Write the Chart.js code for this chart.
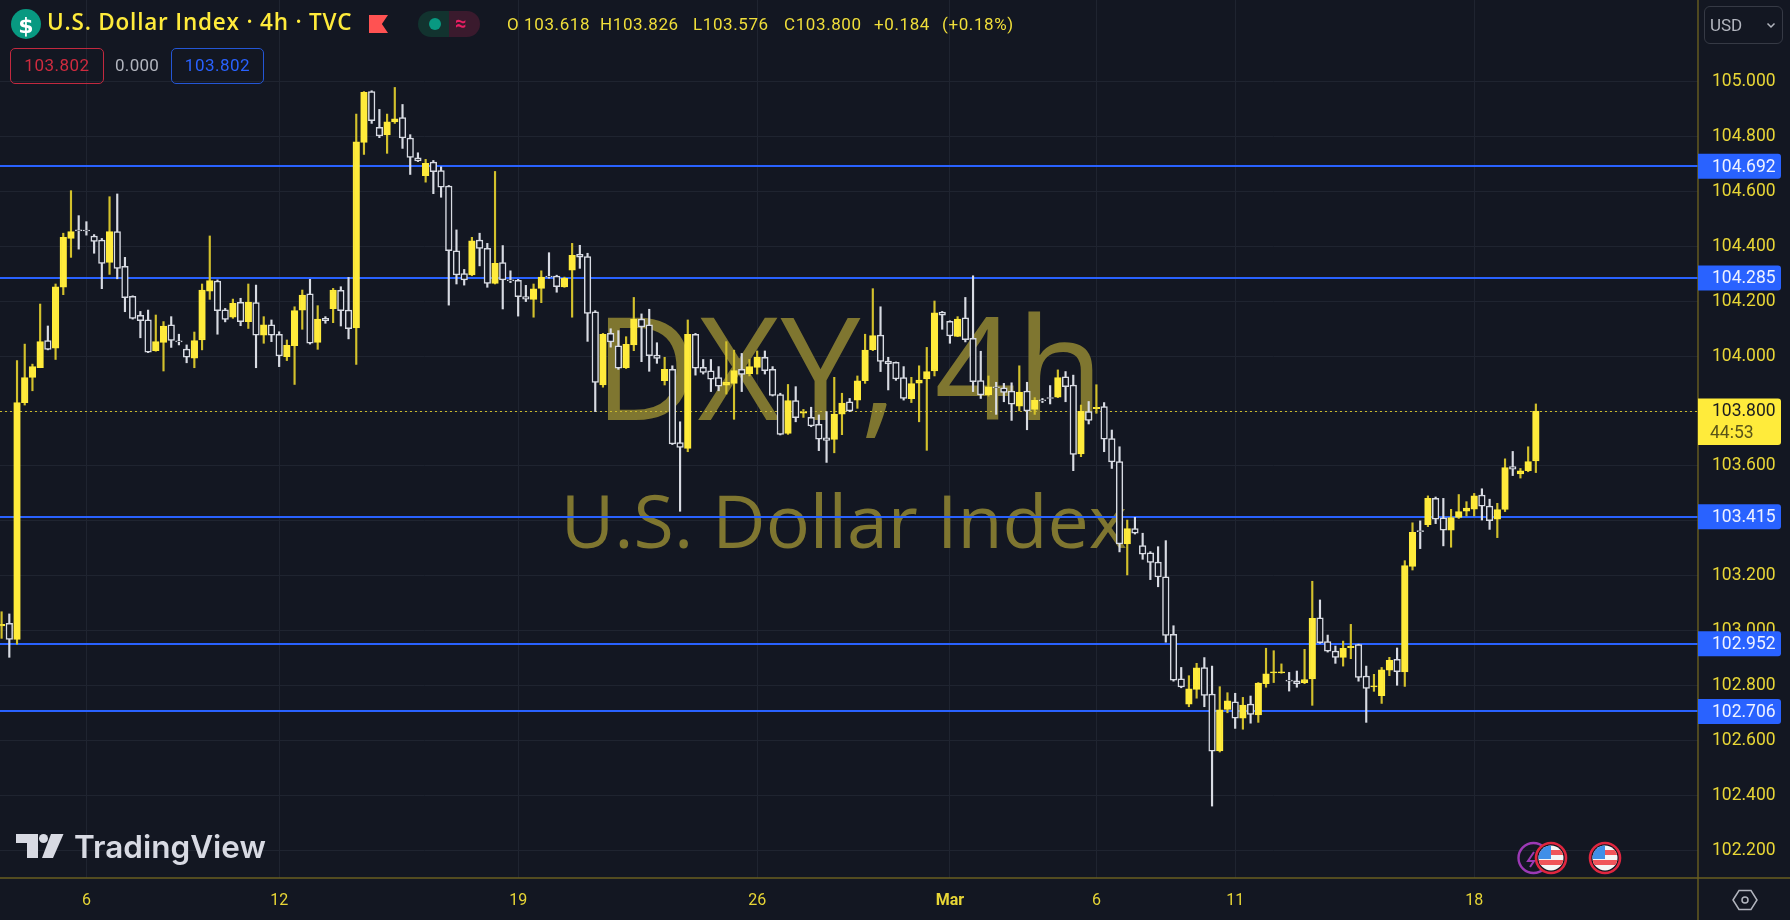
<!DOCTYPE html>
<html>
<head>
<meta charset="utf-8">
<title>DXY 4h</title>
<script src="https://cdn.jsdelivr.net/npm/chart.js@4"></script>
<style>
html, body { margin: 0; padding: 0; background: #131722; width: 1790px; height: 920px; overflow: hidden; }
#chart { position: absolute; left: 0; top: 0; }
.tx { position: absolute; white-space: nowrap; font-family: Roboto, sans-serif; line-height: 1; }
.ohlc { color: #f0de3a; font-size: 17px; top: 16px; letter-spacing: 0.6px; }
.box { position: absolute; box-sizing: border-box; border-radius: 5px; border: 1.5px solid; }
svg { position: absolute; overflow: visible; }
</style>
</head>
<body>
<canvas id="chart" width="1790" height="920"></canvas>

<!-- ENCABEZADO -->
<svg style="left:0;top:0" width="60" height="50"><circle cx="26" cy="24" r="15" fill="#089981"/></svg>
<div class="tx" style="left:17px;top:13px;width:18px;text-align:center;color:#fff;font:bold 22px 'DejaVu Sans'">$</div>
<div class="tx" style="left:47px;top:11px;color:#ffeb3b;font-family:'Open Sans';font-weight:600;font-size:22.5px;letter-spacing:0.8px">U.S. Dollar Index · 4h · TVC</div>
<div style="position:absolute;left:369px;top:15px;width:19px;height:18px;background:#ff5252;clip-path:polygon(0 0,100% 0,68% 50%,100% 100%,0 100%)"></div>
<div style="position:absolute;left:418px;top:11px;width:31px;height:26px;background:#12332f;border-radius:13px 0 0 13px"></div>
<div style="position:absolute;left:449px;top:11px;width:31px;height:26px;background:#3a1a2d;border-radius:0 13px 13px 0"></div>
<svg style="left:0;top:0" width="500" height="50"><circle cx="435" cy="24" r="6" fill="#089981"/></svg>
<div class="tx" style="left:455px;top:13px;color:#e91e63;font-size:20px;font-weight:bold;">≈</div>

<div class="tx ohlc" style="left:507px">O 103.618</div>
<div class="tx ohlc" style="left:600px">H103.826</div>
<div class="tx ohlc" style="left:693px">L103.576</div>
<div class="tx ohlc" style="left:784px">C103.800</div>
<div class="tx ohlc" style="left:874px">+0.184</div>
<div class="tx ohlc" style="left:942px">(+0.18%)</div>

<div class="box" style="left:10px;top:48px;width:94px;height:36px;border-color:#c2293f"></div>
<div class="tx" style="left:10px;top:57px;width:94px;text-align:center;color:#cf2b3f;font-size:17px;letter-spacing:0.5px">103.802</div>
<div class="tx" style="left:115px;top:57px;color:#b2b5be;font-size:17px;letter-spacing:0.3px">0.000</div>
<div class="box" style="left:171px;top:48px;width:93px;height:36px;border-color:#2456d6"></div>
<div class="tx" style="left:171px;top:57px;width:93px;text-align:center;color:#2962ff;font-size:17px;letter-spacing:0.5px">103.802</div>

<!-- SELECTOR DE MONEDA -->
<div class="box" style="left:1704px;top:6px;width:79px;height:38px;border-color:#363a45;border-radius:6px;border-width:1px"></div>
<div class="tx" style="left:1710px;top:17px;color:#b2b5be;font-size:17px">USD</div>
<svg style="left:1766px;top:22px" width="12" height="8"><path d="M1.5 1.5 L5 5 L8.5 1.5" fill="none" stroke="#b2b5be" stroke-width="1.5"/></svg>

<!-- LOGO -->
<svg style="left:0;top:0" width="80" height="880">
  <path d="M16 834 H38 V858 H27 V843 H16 Z" fill="#d8dae3"/>
  <circle cx="43.5" cy="838.5" r="4.5" fill="#d8dae3"/>
  <path d="M51 834 H63.5 L53 858 H42 Z" fill="#d8dae3"/>
</svg>
<div class="tx" style="left:74px;top:831px;color:#d8dae3;font-family:Inter;font-weight:600;font-size:31.5px;">TradingView</div>

<!-- EVENTOS -->
<svg style="left:1500px;top:830px" width="130" height="60">
  <defs>
    <clipPath id="flag"><circle cx="0" cy="0" r="12.5"/></clipPath>
    <g id="usa">
      <circle r="15" fill="#131722" stroke="#e0263f" stroke-width="2.6"/>
      <g clip-path="url(#flag)">
        <rect x="-13" y="-13" width="26" height="26" fill="#f5f5f5"/>
        <rect x="-13" y="-8" width="26" height="5" fill="#f0555a"/>
        <rect x="-13" y="2" width="26" height="5" fill="#f0555a"/>
        <rect x="-13" y="-13" width="13" height="14" fill="#3f8fe8"/>
      </g>
    </g>
  </defs>
  <circle cx="33.5" cy="28" r="15" fill="none" stroke="#9c39b5" stroke-width="2.4"/>
  <path d="M34 22 L28 31 H34 L30 37" fill="none" stroke="#9c39b5" stroke-width="2"/>
  <use href="#usa" x="51" y="28"/>
  <use href="#usa" x="105" y="28"/>
</svg>

<!-- CONFIGURACION -->
<svg style="left:1745px;top:900px" width="1" height="1">
  <path d="M-12 0 L-6 -9.5 H6 L12 0 L6 9.5 H-6 Z" fill="none" stroke="#b2b5be" stroke-width="1.5"/>
  <circle r="3" fill="none" stroke="#b2b5be" stroke-width="1.5"/>
</svg>

<script>
//PRECIOS DE APERTURA
var opens = [103.017,103.027,102.968,103.831,103.923,103.958,104.057,104.029,104.251,104.429,
104.460,104.458,104.438,104.423,104.342,104.454,104.327,104.218,104.149,104.132,
104.020,104.050,104.114,104.054,104.026,103.993,104.059,104.237,104.274,104.169,
104.142,104.196,104.126,104.195,104.077,104.114,104.080,103.998,104.038,104.168,
104.227,104.050,104.138,104.173,104.240,104.168,104.103,104.779,104.964,104.834,
104.806,104.853,104.869,104.795,104.723,104.658,104.707,104.676,104.620,104.384,
104.301,104.296,104.423,104.393,104.265,104.341,104.278,104.276,104.217,104.207,
104.247,104.292,104.292,104.252,104.313,104.371,104.363,104.162,103.895,104.083,
104.038,103.958,104.041,104.135,104.114,104.004,103.911,103.952,103.685,103.664,
104.080,103.959,103.947,103.922,103.894,103.901,103.952,103.936,103.959,103.996,
103.952,103.860,103.719,103.838,103.792,103.777,103.752,103.703,103.697,103.789,
103.834,103.840,103.911,104.024,104.077,103.982,103.978,103.922,103.845,103.902,
103.917,103.946,104.161,104.127,104.072,104.140,104.065,103.911,103.859,103.888,
103.885,103.873,103.818,103.873,103.806,103.839,103.849,103.851,103.925,103.895,
103.644,103.798,103.809,103.816,103.700,103.616,103.316,103.372,103.310,103.284,
103.250,103.196,102.987,102.825,102.732,102.786,102.866,102.769,102.562,102.713,
102.741,102.681,102.733,102.693,102.807,102.846,102.846,102.819,102.817,102.811,
102.824,103.047,102.960,102.926,102.903,102.938,102.949,102.835,102.795,102.763,
102.856,102.896,102.850,103.234,103.364,103.386,103.482,103.411,103.366,103.413,
103.435,103.443,103.494,103.454,103.406,103.442,103.598,103.571,103.583,103.618];

//PRECIOS MAXIMOS
var highs = [103.069,103.061,103.984,104.044,103.971,104.190,104.110,104.263,104.448,104.603,
104.512,104.490,104.443,104.429,104.581,104.591,104.360,104.220,104.163,104.168,
104.150,104.126,104.144,104.080,104.041,104.088,104.263,104.438,104.278,104.174,
104.208,104.211,104.263,104.259,104.144,104.132,104.089,104.059,104.180,104.241,
104.280,104.184,104.144,104.247,104.253,104.287,104.882,104.964,104.967,104.899,
104.882,104.979,104.917,104.807,104.741,104.717,104.713,104.690,104.622,104.460,
104.316,104.433,104.448,104.411,104.673,104.403,104.311,104.280,104.258,104.263,
104.311,104.377,104.295,104.288,104.411,104.404,104.375,104.166,104.083,104.100,
104.093,104.071,104.214,104.154,104.171,104.049,103.996,103.965,103.761,104.132,
104.083,103.988,103.988,103.962,104.053,104.022,104.010,103.988,104.019,104.019,
103.962,103.865,103.897,103.889,103.806,103.814,103.786,103.798,103.923,103.865,
103.846,103.928,104.080,104.246,104.180,103.996,103.979,103.962,103.923,103.965,
104.032,104.201,104.163,104.129,104.144,104.214,104.293,104.018,103.928,103.905,
103.901,103.903,103.965,103.905,103.849,103.846,103.893,103.950,103.944,103.931,
103.822,103.835,103.896,103.831,103.731,103.670,103.403,103.413,103.355,103.288,
103.306,103.328,103.018,102.866,102.836,102.881,102.902,102.871,102.796,102.774,
102.772,102.757,102.762,102.811,102.936,102.927,102.879,102.848,102.853,102.932,
103.180,103.112,102.984,102.944,102.962,103.023,102.951,102.871,102.841,102.866,
102.903,102.937,103.255,103.393,103.400,103.491,103.487,103.482,103.442,103.496,
103.470,103.500,103.517,103.479,103.464,103.626,103.653,103.591,103.670,103.826];

//PRECIOS MINIMOS
var lows = [102.972,102.903,102.951,103.822,103.874,103.958,104.023,103.988,104.224,104.360,
104.390,104.441,104.375,104.246,104.298,104.282,104.162,104.135,104.067,104.013,
104.018,103.946,104.032,104.041,103.976,103.958,104.023,104.207,104.080,104.125,
104.138,104.111,104.101,103.958,104.047,104.053,103.962,103.984,103.897,104.098,
104.044,104.025,104.120,104.122,104.110,104.063,103.970,104.735,104.848,104.796,
104.739,104.848,104.757,104.662,104.709,104.634,104.592,104.579,104.186,104.263,
104.259,104.293,104.329,104.251,104.263,104.172,104.268,104.146,104.199,104.142,
104.195,104.284,104.233,104.251,104.142,104.320,104.054,103.798,103.887,104.033,
103.952,103.955,104.020,103.980,103.945,103.974,103.895,103.678,103.435,103.652,
103.931,103.935,103.871,103.874,103.862,103.770,103.871,103.928,103.935,103.935,
103.855,103.713,103.715,103.761,103.777,103.743,103.656,103.613,103.648,103.714,
103.798,103.810,103.901,104.020,103.944,103.877,103.912,103.840,103.831,103.761,
103.657,103.928,104.098,104.047,104.071,104.052,103.871,103.846,103.855,103.788,
103.834,103.766,103.801,103.732,103.788,103.831,103.826,103.849,103.834,103.583,
103.634,103.753,103.792,103.652,103.591,103.287,103.203,103.352,103.260,103.186,
103.160,102.958,102.816,102.792,102.723,102.754,102.723,102.361,102.558,102.701,
102.644,102.641,102.663,102.666,102.794,102.811,102.845,102.780,102.794,102.807,
102.728,102.954,102.922,102.881,102.871,102.898,102.816,102.666,102.779,102.735,
102.836,102.801,102.797,103.221,103.299,103.379,103.390,103.309,103.304,103.409,
103.418,103.418,103.403,103.369,103.339,103.434,103.565,103.556,103.579,103.576];

//PRECIOS DE CIERRE
var closes = [103.023,102.968,103.831,103.922,103.962,104.053,104.025,104.253,104.433,104.454,
104.456,104.456,104.418,104.338,104.454,104.320,104.213,104.138,104.129,104.015,
104.053,104.110,104.057,104.052,103.996,104.057,104.241,104.275,104.166,104.134,
104.193,104.126,104.197,104.077,104.114,104.077,104.001,104.040,104.166,104.223,
104.047,104.135,104.129,104.241,104.166,104.100,104.781,104.961,104.858,104.802,
104.854,104.865,104.795,104.724,104.711,104.703,104.672,104.616,104.384,104.296,
104.278,104.420,104.393,104.265,104.338,104.278,104.274,104.217,104.208,104.245,
104.288,104.288,104.253,104.284,104.367,104.361,104.156,103.904,104.080,104.052,
103.956,104.043,104.135,104.107,104.002,103.992,103.952,103.680,103.668,104.080,
103.956,103.941,103.916,103.891,103.905,103.948,103.934,103.962,103.997,103.947,
103.857,103.715,103.838,103.776,103.794,103.746,103.698,103.693,103.789,103.829,
103.801,103.910,104.022,104.075,103.981,103.972,103.917,103.846,103.900,103.913,
103.944,104.158,104.149,104.074,104.135,104.060,103.907,103.859,103.888,103.885,
103.868,103.825,103.869,103.801,103.839,103.837,103.846,103.922,103.889,103.642,
103.799,103.766,103.814,103.698,103.615,103.316,103.372,103.355,103.279,103.249,
103.196,102.983,102.820,102.795,102.788,102.865,102.764,102.561,102.712,102.744,
102.681,102.729,102.695,102.809,102.843,102.850,102.850,102.816,102.807,102.822,
103.045,102.956,102.925,102.903,102.936,102.944,102.830,102.790,102.798,102.857,
102.892,102.851,103.237,103.358,103.361,103.482,103.406,103.366,103.412,103.434,
103.447,103.491,103.454,103.401,103.441,103.594,103.588,103.582,103.616,103.800];

//ETIQUETAS DE LOS EJES
var dayTicks = [11, 36, 67, 98, 123, 142, 160, 191];
var dayLabels = ["6", "12", "19", "26", "Mar", "6", "11", "18"];
var priceTicks = [105, 104.8, 104.6, 104.4, 104.2, 104, 103.8, 103.6, 103.4, 103.2, 103, 102.8, 102.6, 102.4, 102.2];

//LINEAS HORIZONTALES Y ULTIMO PRECIO
var levels = [104.692, 104.285, 103.415, 102.952, 102.706];
var lastPrice = 103.800;
var countdown = "44:53";

var BG = "#131722";
var YELLOW = "#ffeb3b";
var WHITE = "#d8dbe3";
var BLUE = "#2962ff";
var AXIS = "#6a5f20";
var TICKFONT = "Roboto";

function isUp(i) {
    return closes[i] >= opens[i];
}

var wickData = opens.map(function (v, i) { return { x: i, y: [lows[i], highs[i]] }; });
var bodyData = opens.map(function (v, i) { return { x: i, y: [opens[i], closes[i]] }; });

//DIBUJA LO QUE VA DETRAS DE LAS VELAS
var behindPlugin = {
    id: "behind",
    beforeDatasetsDraw: function (chart) {
        var ctx = chart.ctx, y = chart.scales.y, area = chart.chartArea;
        ctx.save();

        //MARCA DE AGUA
        ctx.fillStyle = "#7f7630";
        ctx.textAlign = "center";
        ctx.textBaseline = "alphabetic";
        ctx.font = "500 143px 'Open Sans'";
        ctx.fillText("DXY, 4h", 849, 420);
        ctx.font = "500 73.5px 'Open Sans'";
        ctx.fillText("U.S. Dollar Index", 844, 548);

        //LINEAS AZULES
        ctx.strokeStyle = BLUE;
        ctx.lineWidth = 2;
        levels.forEach(function (v) {
            var py = Math.round(y.getPixelForValue(v));
            ctx.beginPath();
            ctx.moveTo(area.left, py);
            ctx.lineTo(area.right, py);
            ctx.stroke();
        });

        //LINEA PUNTEADA DEL ULTIMO PRECIO
        ctx.strokeStyle = "#c9b92e";
        ctx.lineWidth = 1;
        ctx.setLineDash([2, 3]);
        var last = Math.round(y.getPixelForValue(lastPrice)) + 0.5;
        ctx.beginPath();
        ctx.moveTo(area.left, last);
        ctx.lineTo(area.right, last);
        ctx.stroke();
        ctx.restore();
    }
};

//DIBUJA LOS LETREROS DEL EJE DE PRECIOS
var labelPlugin = {
    id: "labels",
    afterDraw: function (chart) {
        var ctx = chart.ctx, y = chart.scales.y, area = chart.chartArea;
        ctx.save();

        //LINEAS DE LOS EJES
        ctx.strokeStyle = AXIS;
        ctx.lineWidth = 1.4;
        ctx.beginPath();
        ctx.moveTo(area.right, 0);
        ctx.lineTo(area.right, 920);
        ctx.moveTo(0, area.bottom);
        ctx.lineTo(1790, area.bottom);
        ctx.stroke();

        ctx.font = "17.5px " + TICKFONT;
        ctx.textBaseline = "middle";
        ctx.textAlign = "left";
        levels.forEach(function (v) {
            var py = y.getPixelForValue(v);
            ctx.fillStyle = BLUE;
            ctx.beginPath();
            ctx.roundRect(area.right, py - 12.5, 83, 25, [0, 3, 3, 0]);
            ctx.fill();
            ctx.fillStyle = "#eef1ff";
            ctx.fillText(v.toFixed(3), 1712, py + 1);
        });

        //LETRERO DEL ULTIMO PRECIO
        var last = y.getPixelForValue(lastPrice);
        ctx.fillStyle = YELLOW;
        ctx.beginPath();
        ctx.roundRect(area.right, last - 12.5, 83, 46.5, [0, 3, 3, 0]);
        ctx.fill();
        ctx.fillStyle = "#1a1c20";
        ctx.fillText(lastPrice.toFixed(3), 1712, last + 1);
        ctx.fillStyle = "#5a5418";
        ctx.fillText(countdown, 1710, last + 23);
        ctx.restore();
    }
};

new Chart(document.getElementById("chart").getContext("2d"), {
    type: "bar",
    data: {
        datasets: [{
            data: wickData,
            order: 2,
            grouped: false,
            barThickness: 1.5,
            backgroundColor: function (c) { return isUp(c.dataIndex) ? "#d3c12c" : WHITE; }
        }, {
            data: bodyData,
            order: 1,
            grouped: false,
            barThickness: 6.6,
            minBarLength: 1,
            borderWidth: 1.5,
            borderSkipped: false,
            borderColor: function (c) { return isUp(c.dataIndex) ? YELLOW : WHITE; },
            backgroundColor: function (c) { return isUp(c.dataIndex) ? YELLOW : BG; }
        }]
    },
    options: {
        responsive: false,
        animation: false,
        events: [],
        layout: { padding: 0 },
        plugins: { legend: { display: false }, tooltip: { enabled: false } },
        scales: {
            x: {
                type: "linear",
                offset: false,
                min: -0.2075,
                max: 220.03,
                grid: { color: "#1f2430", lineWidth: 1, drawTicks: false, offset: false },
                border: { display: false },
                ticks: {
                    autoSkip: false,
                    maxRotation: 0,
                    padding: 13,
                    color: "#e8d636",
                    font: function (c) {
                        var mar = c.tick && c.tick.value === 123;
                        return { family: TICKFONT, size: 16, weight: mar ? "bold" : "normal" };
                    },
                    callback: function (v) { return dayLabels[dayTicks.indexOf(v)]; }
                },
                afterBuildTicks: function (s) {
                    s.ticks = dayTicks.map(function (v) { return { value: v }; });
                },
                afterFit: function (s) {
                    s.height = 42;
                    s.paddingLeft = 0;
                    s.paddingRight = 0;
                }
            },
            y: {
                position: "right",
                min: 102.099,
                max: 105.2976,
                grid: { color: "#1f2430", lineWidth: 1, drawTicks: false },
                border: { display: false },
                ticks: {
                    autoSkip: false,
                    padding: 14,
                    color: "#e8d636",
                    font: { family: TICKFONT, size: 17.5 },
                    callback: function (v) { return v.toFixed(3); }
                },
                afterBuildTicks: function (s) {
                    s.ticks = priceTicks.map(function (v) { return { value: v }; });
                },
                afterFit: function (s) {
                    s.width = 92;
                    s.paddingTop = 0;
                    s.paddingBottom = 0;
                }
            }
        }
    },
    plugins: [behindPlugin, labelPlugin]
});
</script>
</body>
</html>
